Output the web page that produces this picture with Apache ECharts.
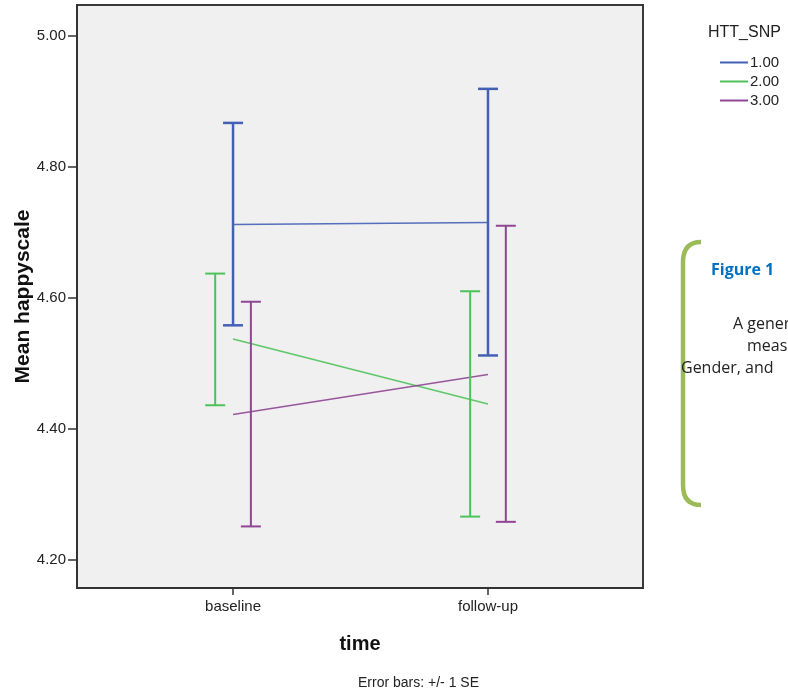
<!DOCTYPE html>
<html lang="en">
<head>
    <meta charset="UTF-8">
    <script src="https://cdn.jsdelivr.net/npm/echarts@6/dist/echarts.min.js"></script>
    <title>Mean happyscale by time and HTT_SNP</title>
    <style>
        html, body { margin: 0; padding: 0; background: #fff; }
        #main { width: 788px; height: 694px; }
    </style>
</head>
<body>
<div id="main"></div>
<script type="text/javascript">
    // data
    var timeLabels = ['baseline', 'follow-up'];
    var timePos = [1, 2];
    var groups = ['1.00', '2.00', '3.00'];
    var means = [[4.712, 4.715], [4.537, 4.438], [4.422, 4.483]];
    var seLow = [[4.558, 4.512], [4.436, 4.266], [4.251, 4.258]];
    var seHigh = [[4.867, 4.919], [4.637, 4.610], [4.594, 4.710]];
    var yTicks = [4.2, 4.4, 4.6, 4.8, 5.0];

    var colors = ['#4360B5', '#4CC35A', '#8E4592'];
    var barWidths = [2.5, 2, 2];
    var dodge = [0, -0.07, 0.07];

    var font = 'Liberation Sans, Arial, sans-serif';
    var myChart = echarts.init(document.getElementById('main'));

    var series = [];
    for (var g = 0; g < groups.length; g++) {
        var lineData = [], barData = [];
        for (var t = 0; t < timePos.length; t++) {
            lineData.push([timePos[t], means[g][t]]);
            barData.push([timePos[t] + dodge[g], seLow[g][t], seHigh[g][t]]);
        }
        series.push({
            name: groups[g],
            type: 'line',
            data: lineData,
            symbol: 'none',
            color: colors[g],
            lineStyle: { width: 1.5, color: colors[g], opacity: 0.9 },
            silent: true,
            z: 3
        });
        series.push({
            name: 'err' + g,
            type: 'custom',
            data: barData,
            silent: true,
            z: 4,
            renderItem: (function (col, w) {
                return function (params, api) {
                    var lo = api.coord([api.value(0), api.value(1)]);
                    var hi = api.coord([api.value(0), api.value(2)]);
                    var hw = 10;
                    var st = { stroke: col, lineWidth: w };
                    return {
                        type: 'group',
                        children: [
                            { type: 'line', shape: { x1: lo[0], y1: lo[1], x2: hi[0], y2: hi[1] }, style: st },
                            { type: 'line', shape: { x1: lo[0] - hw, y1: lo[1], x2: lo[0] + hw, y2: lo[1] }, style: st },
                            { type: 'line', shape: { x1: hi[0] - hw, y1: hi[1], x2: hi[0] + hw, y2: hi[1] }, style: st }
                        ]
                    };
                };
            })(colors[g], barWidths[g])
        });
    }

    var bracket = { stroke: '#9BBB59', lineWidth: 4.5, fill: null };
    var boxFont = 'Open Sans, sans-serif';

    var option = {
        backgroundColor: '#fff',
        animation: false,
        grid: {
            show: true,
            left: 77, top: 5, width: 566, height: 583,
            outerBoundsMode: 'none',
            containLabel: false,
            backgroundColor: '#F0F0F0',
            borderColor: '#3a3a3a',
            borderWidth: 2
        },
        title: {
            text: 'HTT_SNP',
            left: 703, top: 20,
            textStyle: { fontFamily: font, fontSize: 16, fontWeight: 'normal', color: '#222' }
        },
        legend: {
            data: groups,
            orient: 'vertical',
            left: 715, top: 50,
            itemWidth: 28, itemHeight: 2,
            itemGap: 4,
            icon: 'rect',
            textStyle: { fontFamily: font, fontSize: 15, color: '#222', padding: [0, 0, 0, -3] }
        },
        xAxis: {
            type: 'value',
            min: 0.388, max: 2.608,
            name: 'time',
            nameLocation: 'middle',
            nameGap: 46,
            nameMoveOverlap: false,
            nameTextStyle: { fontFamily: font, fontSize: 20, fontWeight: 'bold', color: '#111' },
            axisLine: { show: true, lineStyle: { color: '#333', width: 2 } },
            axisTick: { show: true, customValues: timePos, length: 7, lineStyle: { color: '#333', width: 1.5 } },
            axisLabel: {
                customValues: timePos,
                margin: 11,
                fontFamily: font, fontSize: 15, color: '#222',
                formatter: function (v) { return timeLabels[timePos.indexOf(Math.round(v))] || ''; }
            },
            splitLine: { show: false }
        },
        yAxis: {
            type: 'value',
            min: 4.157, max: 5.047,
            name: 'Mean happyscale',
            nameLocation: 'middle',
            nameGap: 43,
            nameMoveOverlap: false,
            nameRotate: 90,
            nameTextStyle: { fontFamily: font, fontSize: 21, fontWeight: 'bold', color: '#111' },
            axisLine: { show: true, lineStyle: { color: '#333', width: 2 } },
            axisTick: { show: true, customValues: yTicks, length: 9, lineStyle: { color: '#333', width: 1.5 } },
            axisLabel: {
                customValues: yTicks,
                margin: 11,
                fontFamily: font, fontSize: 15, color: '#222',
                formatter: function (v) { return v.toFixed(2); }
            },
            splitLine: { show: false }
        },
        series: series,
        graphic: [
            { type: 'bezierCurve', shape: { x1: 701, y1: 242, cpx1: 683, cpy1: 242, x2: 683, y2: 262 }, style: bracket },
            { type: 'line', shape: { x1: 683, y1: 262, x2: 683, y2: 485 }, style: bracket },
            { type: 'bezierCurve', shape: { x1: 683, y1: 485, cpx1: 683, cpy1: 505, x2: 701, y2: 505 }, style: bracket },
            {
                type: 'text', left: 711, top: 262,
                style: { text: 'Figure 1', fontFamily: boxFont, fontSize: 16, fontWeight: 'bold', fill: '#0070C0' }
            },
            {
                type: 'text', left: 733, top: 316,
                style: { text: 'A generalized', fontFamily: boxFont, fontSize: 16, fill: '#222' }
            },
            {
                type: 'text', left: 747, top: 338,
                style: { text: 'measures', fontFamily: boxFont, fontSize: 16, fill: '#222' }
            },
            {
                type: 'text', left: 681, top: 360,
                style: { text: 'Gender, and', fontFamily: boxFont, fontSize: 16, fill: '#222' }
            },
            {
                type: 'text', left: 358, top: 676,
                style: { text: 'Error bars: +/- 1 SE', fontFamily: font, fontSize: 14, fill: '#222' }
            }
        ]
    };
    myChart.setOption(option);
</script>
</body>
</html>
